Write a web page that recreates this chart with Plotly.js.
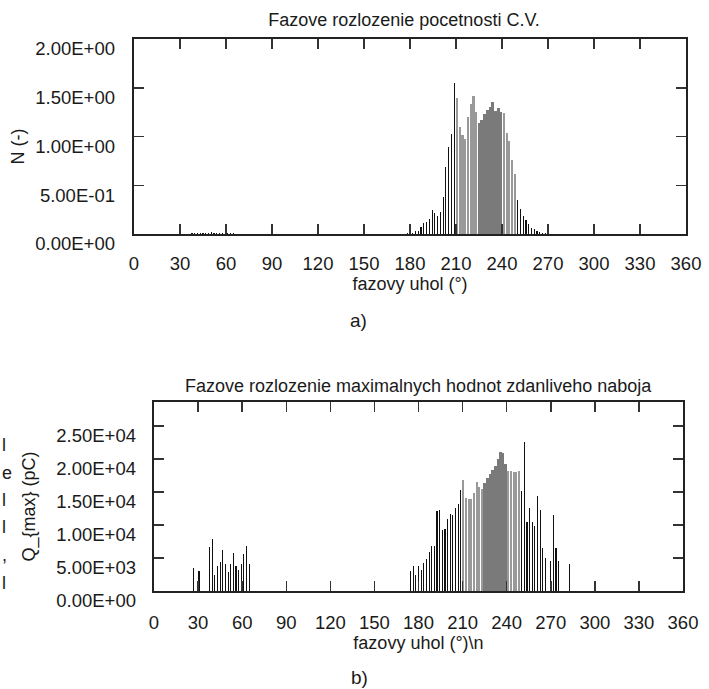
<!DOCTYPE html>
<html><head><meta charset="utf-8">
<script src="https://cdn.plot.ly/plotly-3.0.1.min.js"></script>
<style>html,body{margin:0;padding:0;background:#fff}</style>
</head><body><div id="chart" style="width:709px;height:689px"></div>
<script>
// ---- data (phase bins of 1.8 deg) ----
const phaseA = [37.8,39.6,41.4,43.2,45,46.8,48.6,50.4,52.2,54,55.8,57.6,59.4,61.2,63,64.8,
  174.6,176.4,178.2,180,181.8,183.6,185.4,187.2,189,190.8,192.6,194.4,196.2,198,199.8,201.6,203.4,205.2,207,208.8,
  210.6,212.4,214.2,216,217.8,219.6,221.4,223.2,225,226.8,228.6,230.4,232.2,234,235.8,237.6,239.4,241.2,243,244.8,
  246.6,248.4,250.2,252,253.8,255.6,257.4,259.2,261,262.8,264.6,266.4,268.2,270,271.8,273.6,275.4,277.2,279];
const countA = [0.008,0.012,0.006,0.010,0.014,0.008,0.012,0.016,0.010,0.008,0.014,0.012,0.018,0.010,0.008,0.006,
  0.004,0.005,0.006,0.008,0.012,0.03,0.035,0.075,0.11,0.12,0.15,0.25,0.22,0.18,0.23,0.38,0.69,0.89,1.03,1.55,
  1.40,1.10,1.02,0.97,1.20,1.33,1.42,1.25,1.14,1.17,1.23,1.27,1.30,1.35,1.26,1.29,1.25,1.24,1.04,0.95,
  0.76,0.62,0.35,0.26,0.18,0.14,0.10,0.06,0.05,0.035,0.02,0.01,0.006,0.004,0.005,0.004,0.005,0.003,0.004];

const phaseB = [27,30.6,37.8,39.6,41.4,43.2,45,46.8,48.6,50.4,52.2,54,55.8,57.6,59.4,61.2,63,64.8,
  174.6,176.4,178.2,180,181.8,183.6,185.4,187.2,189,190.8,192.6,194.4,196.2,198,199.8,201.6,203.4,205.2,207,208.8,
  210.6,212.4,214.2,216,217.8,219.6,221.4,223.2,225,226.8,228.6,230.4,232.2,234,235.8,237.6,239.4,241.2,243,244.8,
  246.6,248.4,250.2,252,253.8,255.6,257.4,259.2,261,262.8,264.6,266.4,270,271.8,273.6,275.4,282.6];
const qmaxB = [3500,3000,6700,7800,2450,3750,4350,6200,4100,2950,4100,5700,3780,3200,4100,5650,6800,4100,
  3000,3850,2470,3830,3220,4280,4830,5840,6750,6750,12100,12330,9210,9440,10950,11600,11450,12610,13170,15260,
  16870,14120,13950,13950,14800,16570,15810,15480,16310,17070,17700,18280,18880,19940,21100,20850,19280,18200,18150,18070,
  18000,18200,15060,22600,10500,12500,10500,9800,14400,12200,6500,5060,4600,11530,6450,4580,4030];

const phaseTicks = [0,30,60,90,120,150,180,210,240,270,300,330,360];
const phaseTickText = ['0','30','60','90','120','150','180','210','240','270','300','330','360'];
const nTicks = [0,0.5,1,1.5,2];
const nTickText = ['0.00E+00','5.00E-01','1.00E+00','1.50E+00','2.00E+00'];
const qTicks = [0,5000,10000,15000,20000,25000];
const qTickText = ['0.00E+00','5.00E+03','1.00E+04','1.50E+04','2.00E+04','2.50E+04'];

// ---- layout helpers (pixels -> paper) ----
const W = 709, H = 689;
const px = v => v / W;
const py = v => 1 - v / H;
const FONT = 'Liberation Sans, Arial, sans-serif';
const TXT = '#1a1a1a';

// rendering shade of the dense boxes
function shade(x) {
  if (x >= 224 && x <= 239.5) return '#7a7a7a';
  if (x >= 210 && x <= 249) return '#999999';
  return '#111111';
}
function bw(x) {
  if (x >= 224 && x <= 239.5) return 1.8;
  if (x >= 210 && x <= 249) return 1.4;
  return 0.75;
}

const traces = [
  {type:'bar', x: phaseA, y: countA, xaxis:'x', yaxis:'y',
   marker:{color: phaseA.map(shade), line:{width:0}}, width: phaseA.map(bw),
   hoverinfo:'x+y', showlegend:false},
  {type:'bar', x: phaseB, y: qmaxB, xaxis:'x2', yaxis:'y2',
   marker:{color: phaseB.map(shade), line:{width:0}}, width: phaseB.map(bw),
   hoverinfo:'x+y', showlegend:false},
  {type:'scatter', x:[], y:[], xaxis:'x', yaxis:'y3', showlegend:false, hoverinfo:'skip'},
  {type:'scatter', x:[], y:[], xaxis:'x2', yaxis:'y4', showlegend:false, hoverinfo:'skip'}
];

const frame = {
  showline:true, linewidth:2, linecolor:'#222', mirror:'ticks',
  ticks:'inside', ticklen:10, tickwidth:1.5, tickcolor:'#333',
  showgrid:false, zeroline:false, fixedrange:true,
  tickfont:{family:FONT, size:18.5, color:TXT}
};
const labelAxis = {
  showline:false, ticks:'', showgrid:false, zeroline:false, fixedrange:true,
  tickfont:{family:FONT, size:18.5, color:TXT}
};

const layout = {
  width: W, height: H,
  margin:{l:0, r:0, t:0, b:0},
  paper_bgcolor:'#ffffff', plot_bgcolor:'rgba(0,0,0,0)',
  font:{family:FONT, color:TXT},
  bargap:0,
  title:{text:'Fazove rozlozenie pocetnosti C.V.', font:{family:FONT, size:18, color:TXT},
         x:px(404), xanchor:'center', y:py(20), yanchor:'middle'},
  // top chart
  xaxis: Object.assign({}, frame, {domain:[px(134), px(686)], range:[0,360], anchor:'y',
         tickvals: phaseTicks, ticktext: phaseTickText, ticklabelstandoff: 12,
         title:{text:'fazovy uhol (°)', font:{family:FONT, size:18, color:TXT}, standoff: 0}}),
  yaxis: Object.assign({}, frame, {domain:[py(234), py(39)], range:[0,2], anchor:'x',
         tickvals: nTicks, showticklabels:false}),
  // bottom chart
  xaxis2: Object.assign({}, frame, {domain:[px(154), px(683)], range:[0,360], anchor:'y2',
         tickvals: phaseTicks, ticktext: phaseTickText, ticklabelstandoff: 14,
         title:{text:'fazovy uhol (°)\\n', font:{family:FONT, size:18, color:TXT}, standoff: 0}}),
  yaxis2: Object.assign({}, frame, {domain:[py(591), py(402)], range:[0,28600], anchor:'x2',
         tickvals: qTicks, showticklabels:false}),
  // y label axes (labels sit ~10 px below the frame ticks, as in the source)
  yaxis3: Object.assign({}, labelAxis, {domain:[py(244), py(49)], range:[0,2], anchor:'free',
         position: px(134), tickvals: nTicks, ticktext: nTickText, ticklabelstandoff: 19,
         title:{text:'N (-)', font:{family:FONT, size:18, color:TXT}, standoff: 4}}),
  yaxis4: Object.assign({}, labelAxis, {domain:[py(601), py(412)], range:[0,28600], anchor:'free',
         position: px(154), tickvals: qTicks, ticktext: qTickText, ticklabelstandoff: 18,
         title:{text:'Q_{max} (pC)', font:{family:FONT, size:18, color:TXT}, standoff: 14}}),
  annotations: [
    {text:'Fazove rozlozenie maximalnych hodnot zdanliveho naboja', xref:'paper', yref:'paper',
     x:px(418), y:py(386), xanchor:'center', yanchor:'middle', showarrow:false,
     font:{family:FONT, size:18, color:TXT}},
    {text:'a)', xref:'paper', yref:'paper', x:px(358), y:py(320), xanchor:'center', yanchor:'middle',
     showarrow:false, font:{family:FONT, size:19, color:TXT}},
    {text:'b)', xref:'paper', yref:'paper', x:px(359), y:py(677), xanchor:'center', yanchor:'middle',
     showarrow:false, font:{family:FONT, size:19, color:TXT}},
    {text:'l', xref:'paper', yref:'paper', x:0, y:py(445), xanchor:'left', yanchor:'middle', showarrow:false, font:{family:FONT, size:18, color:TXT}},
    {text:'e', xref:'paper', yref:'paper', x:0, y:py(473), xanchor:'left', yanchor:'middle', showarrow:false, font:{family:FONT, size:18, color:TXT}},
    {text:'l', xref:'paper', yref:'paper', x:0, y:py(500), xanchor:'left', yanchor:'middle', showarrow:false, font:{family:FONT, size:18, color:TXT}},
    {text:'l', xref:'paper', yref:'paper', x:0, y:py(527), xanchor:'left', yanchor:'middle', showarrow:false, font:{family:FONT, size:18, color:TXT}},
    {text:',', xref:'paper', yref:'paper', x:0, y:py(555), xanchor:'left', yanchor:'middle', showarrow:false, font:{family:FONT, size:18, color:TXT}},
    {text:'l', xref:'paper', yref:'paper', x:0, y:py(583), xanchor:'left', yanchor:'middle', showarrow:false, font:{family:FONT, size:18, color:TXT}}
  ]
};

Plotly.newPlot('chart', traces, layout, {displayModeBar:false, staticPlot:true});
</script>
</body></html>
